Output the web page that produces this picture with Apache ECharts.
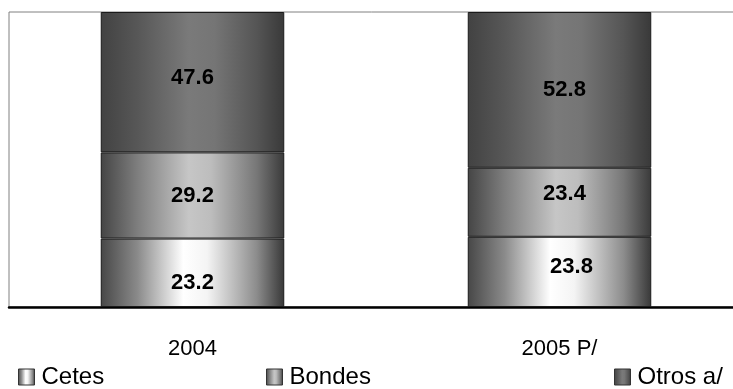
<!DOCTYPE html>
<html>
<head>
<meta charset="utf-8">
<script src="https://cdn.jsdelivr.net/npm/echarts@6/dist/echarts.min.js"></script>
<style>
  html, body { margin: 0; padding: 0; background: #fff; }
  #chart { width: 733px; height: 389px; }
</style>
</head>
<body>
<div id="chart"></div>
<script>
const categories = ['2004', '2005 P/'];
const cetes = [23.2, 23.8];
const bondes = [29.2, 23.4];
const otros = [47.6, 52.8];

// small nudges so the labels sit where the original put them
const labelNudge = {
  Cetes: [[0, 10], [12, -5]],
  Bondes: [[0, 0], [5, -8]],
  'Otros a/': [[0, -4], [5, 0]],
};

const font = '"Liberation Sans", Arial, sans-serif';

function grad(stops) {
  return new echarts.graphic.LinearGradient(0, 0, 1, 0,
    stops.map(([offset, color]) => ({ offset, color })));
}

const fills = {
  Cetes: grad([[0, '#474747'], [0.2, '#8a8a8a'], [0.45, '#ffffff'], [0.58, '#f4f4f4'], [0.85, '#8c8c8c'], [1, '#383838']]),
  Bondes: grad([[0, '#454545'], [0.2, '#7e7e7e'], [0.48, '#c6c6c6'], [0.6, '#bdbdbd'], [0.85, '#777777'], [1, '#3a3a3a']]),
  'Otros a/': grad([[0, '#424242'], [0.2, '#575757'], [0.48, '#7a7a7a'], [0.62, '#757575'], [0.85, '#555555'], [1, '#393939']]),
};

function makeSeries(name, values) {
  return {
    name,
    type: 'bar',
    stack: 'total',
    barWidth: '50%',
    itemStyle: { color: fills[name], borderColor: '#1a1a1a', borderWidth: 1 },
    label: {
      show: true,
      position: 'inside',
      color: '#000',
      fontWeight: 'bold',
      fontSize: 22,
      fontFamily: font,
    },
    data: values.map((v, i) => ({ value: v, label: { offset: labelNudge[name][i] } })),
  };
}

function oneLegend(name, left) {
  return {
    data: [name],
    left,
    top: 365,
    padding: 0,
    itemWidth: 16,
    itemHeight: 16,
    icon: 'rect',
    itemGap: 0,
    selectedMode: false,
    itemStyle: { borderColor: '#333', borderWidth: 1 },
    textStyle: { fontSize: 24, color: '#000', fontFamily: font, padding: [0, 0, 0, 2] },
  };
}

const chart = echarts.init(document.getElementById('chart'), null, { renderer: 'canvas' });
chart.setOption({
  animation: false,
  backgroundColor: '#fff',
  grid: {
    left: 9,
    top: 12,
    width: 734,
    height: 295,
    outerBoundsMode: 'none',
    show: true,
    borderColor: '#808080',
    borderWidth: 1,
  },
  legend: [
    oneLegend('Cetes', 18),
    oneLegend('Bondes', 266),
    oneLegend('Otros a/', 614),
  ],
  xAxis: {
    type: 'category',
    data: categories,
    axisLine: { lineStyle: { color: '#000', width: 2.5 } },
    axisTick: { show: false },
    axisLabel: { fontSize: 22, color: '#000', fontFamily: font, margin: 31 },
  },
  yAxis: {
    type: 'value',
    min: 0,
    max: 100,
    show: false,
    splitLine: { show: false },
  },
  series: [
    makeSeries('Cetes', cetes),
    makeSeries('Bondes', bondes),
    makeSeries('Otros a/', otros),
  ],
});
</script>
</body>
</html>
